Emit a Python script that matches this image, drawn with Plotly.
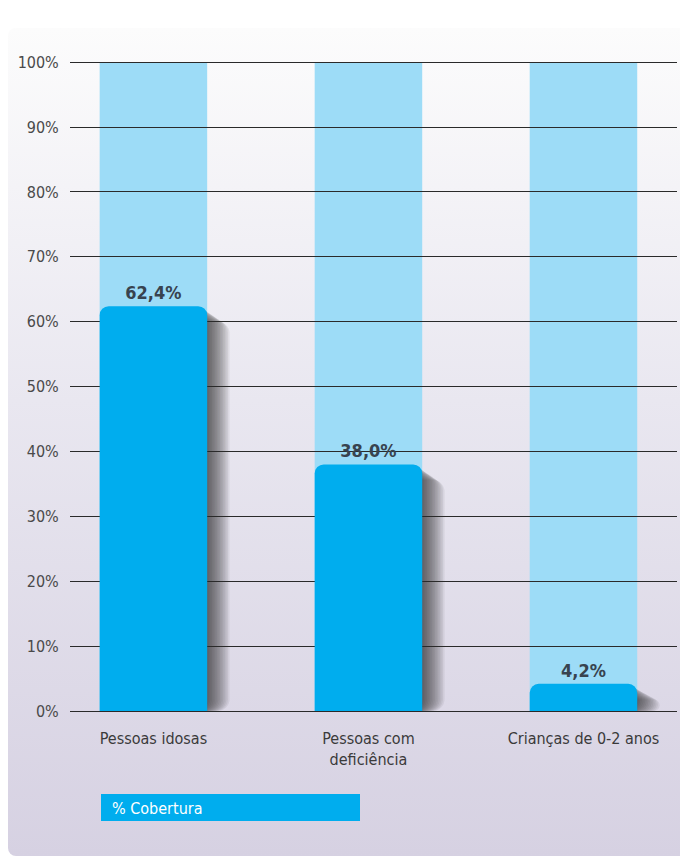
import base64
import plotly.graph_objects as go

# ---------------- data ----------------
categories = ["Pessoas idosas", "Pessoas com<br>deficiência", "Crianças de 0-2 anos"]
coverage = [62.4, 38.0, 4.2]          # % Cobertura
full_scale = [100, 100, 100]          # 100% reference columns
y_tick_values = [0, 10, 20, 30, 40, 50, 60, 70, 80, 90, 100]
y_tick_labels = ["0%", "10%", "20%", "30%", "40%", "50%", "60%", "70%", "80%", "90%", "100%"]
legend_label = "% Cobertura"

# ---------------- style ----------------
FONT = "'Liberation Sans Narrow', 'DejaVu Sans Condensed', 'Roboto', sans-serif"
DARK = "#00adee"
LIGHT = "#9ddcf7"
W, H = 680, 856
L, R, T, B = 70, 3, 55, 143
PW, PH = W - L - R, H - T - B
X_RANGE = [-0.388, 2.435]
Y_RANGE = [-0.3, 101.1]
px_per_x = PW / (X_RANGE[1] - X_RANGE[0])
px_per_y = PH / (Y_RANGE[1] - Y_RANGE[0])
BAR_W = 0.5

fig = go.Figure()

# light 100% columns (subplot 1)
fig.add_trace(go.Bar(x=categories, y=full_scale, width=BAR_W, marker_color=LIGHT,
                     marker_line_width=0, xaxis="x", yaxis="y", hoverinfo="skip",
                     showlegend=False))

# soft drop shadow (subplot 1, under the gridlines)
N = 14
for k in range(1, N + 1):
    dx = 1.6 * k / px_per_x
    dy = 1.1 * k / px_per_y
    fig.add_trace(go.Bar(x=categories, y=[max(v - dy, 0.5) for v in coverage], base=0,
                         offset=-BAR_W / 2 + dx, width=BAR_W,
                         marker=dict(color="rgba(25,25,30,0.065)", line_width=0,
                                     cornerradius=12),
                         xaxis="x", yaxis="y", hoverinfo="skip", showlegend=False))

# main coverage bars (subplot 2, above gridlines)
fig.add_trace(go.Bar(x=categories, y=coverage, width=BAR_W,
                     marker=dict(color=DARK, line_width=0, cornerradius=9),
                     texttemplate="%{y:.1f}%", textposition="outside",
                     textfont=dict(family=FONT, size=18, color="#38434f", weight="bold"),
                     cliponaxis=False, xaxis="x2", yaxis="y2",
                     name=legend_label, showlegend=False))

# gradient panel background
svg = (
    f'<svg xmlns="http://www.w3.org/2000/svg" width="672" height="828" '
    f'viewBox="0 0 672 828" preserveAspectRatio="none"><defs>'
    f'<linearGradient id="g" x1="0" y1="0" x2="0" y2="1">'
    f'<stop offset="0" stop-color="#fcfcfc"/><stop offset="0.45" stop-color="#e9e7f0"/>'
    f'<stop offset="1" stop-color="#d6d1e2"/></linearGradient></defs>'
    f'<rect x="0" y="0" width="690" height="828" rx="8" fill="url(#g)"/></svg>'
)
src = "data:image/svg+xml;base64," + base64.b64encode(svg.encode()).decode()

def px_x(px):
    return (px - L) / PW

def px_y(py):
    return (H - B - py) / PH

axis_common = dict(range=X_RANGE, type="category", categoryorder="array",
                   categoryarray=categories, showgrid=False, zeroline=False,
                   showline=False, domain=[0, 1])

fig.update_layout(
    width=W, height=H,
    margin=dict(l=L, r=R, t=T, b=B),
    paper_bgcolor="white", plot_bgcolor="rgba(0,0,0,0)",
    barmode="overlay", separators=",.",
    font=dict(family=FONT, color="#3c3c3c"),
    xaxis=dict(**axis_common, anchor="y", showticklabels=False),
    yaxis=dict(range=Y_RANGE, showgrid=False, zeroline=False, showticklabels=False,
               domain=[0, 1], anchor="x"),
    xaxis2=dict(**axis_common, anchor="y2", showticklabels=True,
                ticks="outside", ticklen=11, tickcolor="rgba(0,0,0,0)",
                tickfont=dict(family=FONT, size=16, color="#3a3a3a")),
    yaxis2=dict(range=Y_RANGE, domain=[0, 1], anchor="x2",
                tickmode="array", tickvals=y_tick_values, ticktext=y_tick_labels,
                showgrid=True, gridcolor="#2a2a2a", gridwidth=1.2, zeroline=False,
                ticks="outside", ticklen=7, tickcolor="rgba(0,0,0,0)",
                tickfont=dict(family=FONT, size=16, color="#4a4a4a")),
    images=[dict(source=src, xref="paper", yref="paper",
                 x=px_x(8), y=px_y(28), sizex=672 / PW, sizey=828 / PH,
                 xanchor="left", yanchor="top", sizing="stretch", layer="below")],
    shapes=[dict(type="rect", xref="paper", yref="paper",
                 x0=px_x(101), x1=px_x(360), y0=px_y(821), y1=px_y(794),
                 fillcolor=DARK, line_width=0)],
    annotations=[dict(text=legend_label, xref="paper", yref="paper",
                      x=px_x(110), y=px_y(808), xanchor="left", yanchor="middle",
                      showarrow=False, font=dict(family=FONT, size=16, color="white"))],
)

fig.write_html("out.html")
